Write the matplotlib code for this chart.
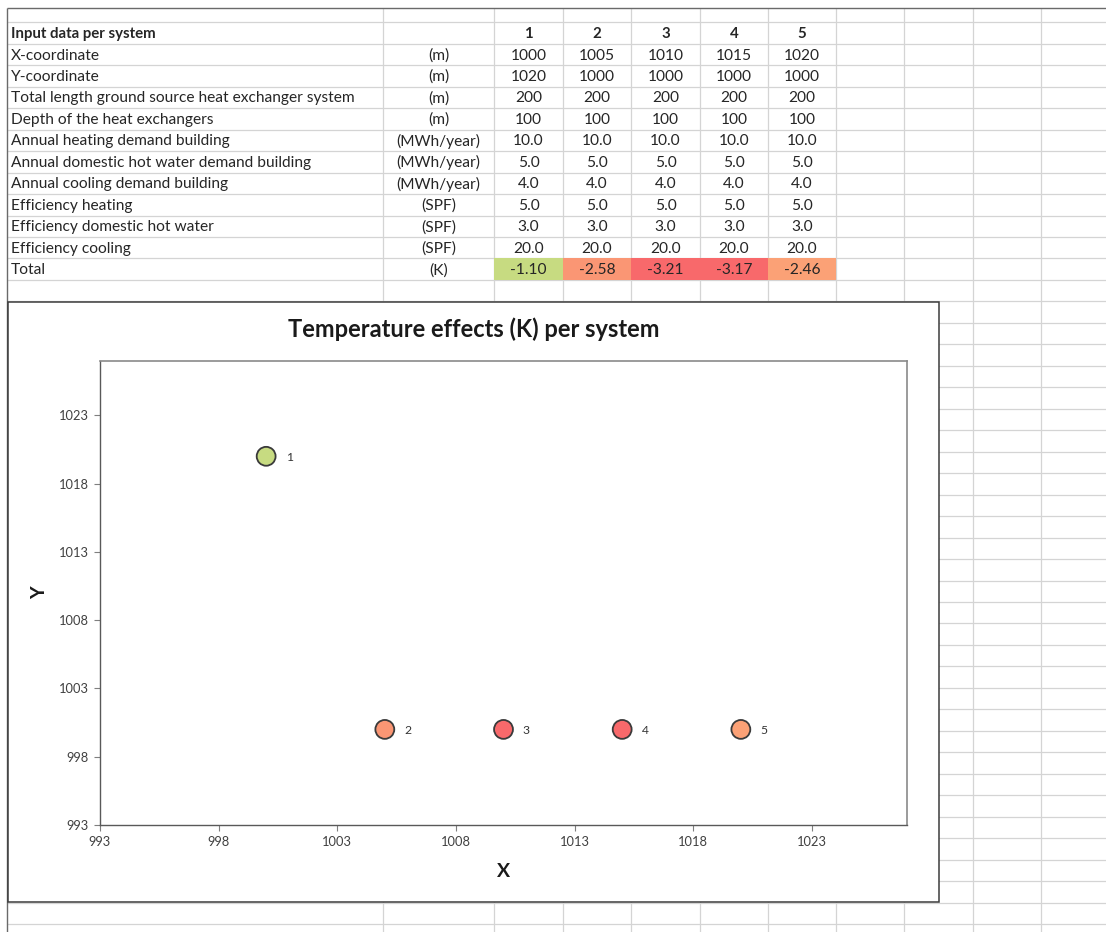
import matplotlib
matplotlib.use("Agg")
import numpy as np
import matplotlib.pyplot as plt
from matplotlib.colors import LinearSegmentedColormap, TwoSlopeNorm
from matplotlib.patches import Rectangle

plt.rcParams['font.family'] = ['Lato', 'DejaVu Sans']

# ---- input data per system ----
systems = ["1", "2", "3", "4", "5"]
x_coord = [1000, 1005, 1010, 1015, 1020]
y_coord = [1020, 1000, 1000, 1000, 1000]
total_length = [200, 200, 200, 200, 200]
depth = [100, 100, 100, 100, 100]
heating_demand = [10.0, 10.0, 10.0, 10.0, 10.0]
dhw_demand = [5.0, 5.0, 5.0, 5.0, 5.0]
cooling_demand = [4.0, 4.0, 4.0, 4.0, 4.0]
eff_heating = [5.0, 5.0, 5.0, 5.0, 5.0]
eff_dhw = [3.0, 3.0, 3.0, 3.0, 3.0]
eff_cooling = [20.0, 20.0, 20.0, 20.0, 20.0]
total_effect = [-1.10, -2.58, -3.21, -3.17, -2.46]

row_labels = [
    "X-coordinate",
    "Y-coordinate",
    "Total length ground source heat exchanger system",
    "Depth of the heat exchangers",
    "Annual heating demand building",
    "Annual domestic hot water demand building",
    "Annual cooling demand building",
    "Efficiency heating",
    "Efficiency domestic hot water",
    "Efficiency cooling",
    "Total",
]
row_units = ["(m)", "(m)", "(m)", "(m)", "(MWh/year)", "(MWh/year)",
             "(MWh/year)", "(SPF)", "(SPF)", "(SPF)", "(K)"]
row_values = [x_coord, y_coord, total_length, depth, heating_demand,
              dhw_demand, cooling_demand, eff_heating, eff_dhw, eff_cooling,
              total_effect]
row_formats = ["{:.0f}"] * 4 + ["{:.1f}"] * 6 + ["{:.2f}"]

x_ticks = [993, 998, 1003, 1008, 1013, 1018, 1023]
y_ticks = [993, 998, 1003, 1008, 1013, 1018, 1023]

# red - yellow - green colour scale for the temperature effect
cmap = LinearSegmentedColormap.from_list("ryg", ["#F8696B", "#FFEB84", "#63BE7B"])
norm = TwoSlopeNorm(vmin=-3.05, vcenter=-1.7, vmax=0.0)

W, H = 1106, 932
fig = plt.figure(figsize=(W / 100, H / 100), dpi=100)
fig.patch.set_facecolor("white")

# ---- worksheet layer in pixel coordinates ----
sheet = fig.add_axes([0, 0, 1, 1])
sheet.set_xlim(0, W)
sheet.set_ylim(H, 0)
sheet.axis("off")

col_edges = [7, 383, 494, 563, 631, 700, 768, 836, 904, 973, 1041]
row_top0 = 22.3
row_h = 21.47
grid_c = "#d4d4d4"

y = row_top0
row_lines = []
while y < H:
    row_lines.append(y)
    y += row_h
sheet.hlines(row_lines, 7, W, color=grid_c, lw=0.9, zorder=1)
sheet.vlines(col_edges[1:], 8, H, color=grid_c, lw=0.9, zorder=1)
sheet.hlines([8], 7, W, color="#6a6a6a", lw=1.0, zorder=2)
sheet.vlines([7], 8, H, color="#6a6a6a", lw=1.0, zorder=2)

txt_c = "#262626"
fs_cell = 11.2
label_x = 11
unit_x = (col_edges[1] + col_edges[2]) / 2
val_x = [(col_edges[i + 2] + col_edges[i + 3]) / 2 for i in range(len(systems))]


def row_center(k):
    return row_top0 + row_h * (k + 0.5) + 1.0


sheet.text(label_x, row_center(0), "Input data per system", ha="left",
           va="center", fontsize=fs_cell - 0.4, fontweight="bold", color=txt_c, zorder=3)
for i, s in enumerate(systems):
    sheet.text(val_x[i], row_center(0), s, ha="center", va="center",
               fontsize=fs_cell - 0.4, fontweight="bold", color=txt_c, zorder=3)

for r, (lab, unit, vals, fmt) in enumerate(zip(row_labels, row_units,
                                               row_values, row_formats)):
    yc = row_center(r + 1)
    sheet.text(label_x, yc, lab, ha="left", va="center", fontsize=fs_cell,
               color=txt_c, zorder=3)
    sheet.text(unit_x, yc, unit, ha="center", va="center", fontsize=fs_cell,
               color=txt_c, zorder=3)
    for i, v in enumerate(vals):
        sheet.text(val_x[i], yc, fmt.format(v), ha="center", va="center",
                   fontsize=fs_cell, color=txt_c, zorder=3)

# conditional fill of the total row
total_top = row_top0 + row_h * (len(row_labels))
for i, v in enumerate(total_effect):
    sheet.add_patch(Rectangle((col_edges[i + 2], total_top),
                              col_edges[i + 3] - col_edges[i + 2], row_h,
                              facecolor=cmap(norm(v)), edgecolor="none", zorder=2))

# chart frame
frame_l, frame_t, frame_r, frame_b = 8, 302, 939, 902
sheet.add_patch(Rectangle((frame_l, frame_t), frame_r - frame_l, frame_b - frame_t,
                          facecolor="white", edgecolor="#3c3c3c", lw=1.1, zorder=5))
sheet.text((frame_l + frame_r) / 2, 329, "Temperature effects (K) per system",
           ha="center", va="center", fontsize=17, fontweight="bold",
           color="#1a1a1a", zorder=6)

# ---- scatter chart ----
pl, pr, pt, pb = 100, 907, 360.7, 825
ax = fig.add_axes([pl / W, (H - pb) / H, (pr - pl) / W, (pb - pt) / H])
ax.set_zorder(10)
ax.set_facecolor("white")
ax.set_xlim(993, 1027)
ax.set_ylim(993, 1027)
ax.set_xticks(x_ticks)
ax.set_yticks(y_ticks)
ax.set_xticklabels([str(t) for t in x_ticks])
ax.set_yticklabels([str(t) for t in y_ticks])
ax.tick_params(direction="out", length=4, width=0.8, color="#7f7f7f",
               labelsize=9.3, labelcolor="#404040", pad=4)
for side in ["top", "right"]:
    ax.spines[side].set_color("#8a8a8a")
    ax.spines[side].set_linewidth(1.2)
for side in ["left", "bottom"]:
    ax.spines[side].set_color("#595959")
    ax.spines[side].set_linewidth(1.0)

ax.scatter(x_coord, y_coord, s=13.6 ** 2, c=total_effect, cmap=cmap, norm=norm,
           edgecolors="#3a3a3a", linewidths=1.3, zorder=3)
for s, xv, yv in zip(systems, x_coord, y_coord):
    ax.annotate(s, (xv, yv), xytext=(16.5, -1), textcoords="offset points",
                ha="center", va="center", fontsize=8.7, color="#333333")

ax.set_xlabel("X", fontsize=14, fontweight="bold", color="#1a1a1a", labelpad=11)
ax.set_ylabel("Y", fontsize=14, fontweight="bold", color="#1a1a1a", labelpad=8)

fig.savefig("out.png", dpi=100, facecolor="white")
